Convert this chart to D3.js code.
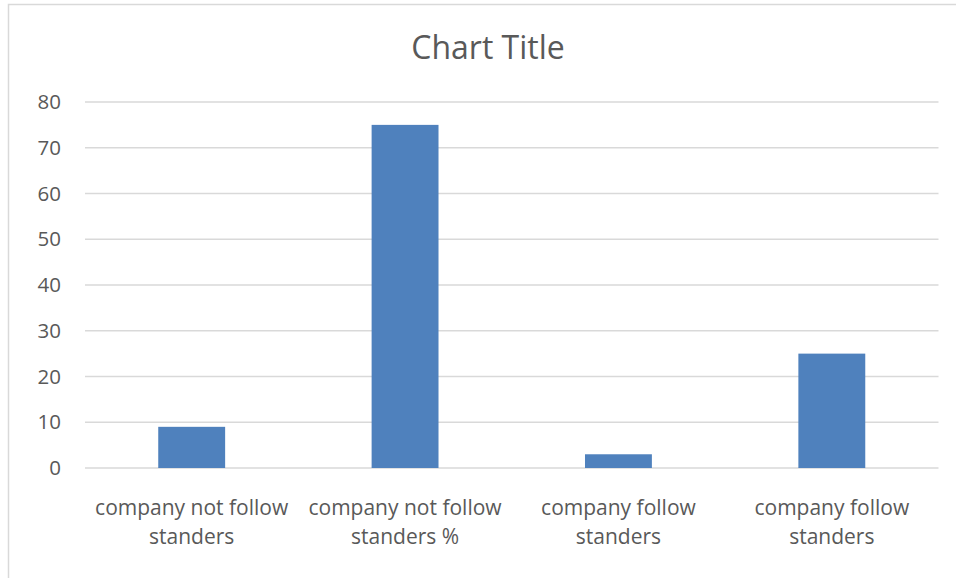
<!DOCTYPE html>
<html>
<head>
<meta charset="utf-8">
<script src="https://cdn.jsdelivr.net/npm/d3@7"></script>
<style>
  body { margin: 0; background: #fff; }
  svg { display: block; }
</style>
</head>
<body>
<div id="chart"></div>
<script>
// data
let categories = [
  ["company not follow", "standers"],
  ["company not follow", "standers %"],
  ["company follow", "standers"],
  ["company follow", "standers"]
];
let values = [9, 75, 3, 25];
let yTicks = [0, 10, 20, 30, 40, 50, 60, 70, 80];

let width = 956, height = 578;
let plotLeft = 85, plotRight = 938.5, plotTop = 102, plotBottom = 468;
let font = "'Open Sans', sans-serif";

let svg = d3.select("#chart")
  .append("svg")
    .attr("width", width)
    .attr("height", height)
;

// chart frame (cut off on the right and bottom like the screenshot)
svg.append("rect")
  .attr("x", 8.5)
  .attr("y", 4.5)
  .attr("width", 960)
  .attr("height", 600)
  .attr("fill", "#fff")
  .attr("stroke", "#d9d9d9")
  .attr("stroke-width", 1.5)
;

let x = d3.scaleBand()
  .domain(d3.range(values.length))
  .range([plotLeft, plotRight])
  .paddingInner(0.6865)
  .paddingOuter(0.34325)
;
let y = d3.scaleLinear()
  .domain([0, 80])
  .range([plotBottom, plotTop])
;

// gridlines
svg.append("g")
  .selectAll("line")
  .data(yTicks)
  .enter()
  .append("line")
    .attr("x1", plotLeft)
    .attr("x2", plotRight)
    .attr("y1", d => y(d))
    .attr("y2", d => y(d))
    .attr("stroke", "#d9d9d9")
    .attr("stroke-width", 1.3)
;

// y axis labels
let yAxis = svg.append("g")
  .attr("transform", "translate(" + (plotLeft - 11) + ",0)")
  .call(d3.axisLeft(y).tickValues(yTicks).tickSize(0).tickPadding(13));
yAxis.select(".domain").remove();
yAxis.selectAll("text")
  .attr("fill", "#595959")
  .attr("font-size", 20.5)
  .attr("font-family", font)
;

// bars
svg.append("g")
  .selectAll("rect")
  .data(values)
  .enter()
  .append("rect")
    .attr("x", (d, i) => x(i))
    .attr("y", d => y(d))
    .attr("width", x.bandwidth())
    .attr("height", d => y(0) - y(d))
    .attr("fill", "#4f81bd")
;

// category labels, two lines each
let labels = svg.append("g")
  .selectAll("text")
  .data(categories)
  .enter()
  .append("text")
    .attr("x", (d, i) => x(i) + x.bandwidth() / 2)
    .attr("y", 515)
    .attr("text-anchor", "middle")
    .attr("fill", "#595959")
    .attr("font-size", 21)
    .attr("font-family", font)
;
labels.selectAll("tspan")
  .data(d => d)
  .enter()
  .append("tspan")
    .attr("x", function(){ return d3.select(this.parentNode).attr("x"); })
    .attr("dy", (d, i) => i == 0 ? 0 : 29)
    .text(d => d)
;

// title
svg.append("text")
  .text("Chart Title")
    .attr("x", 488)
    .attr("y", 59)
    .attr("text-anchor", "middle")
    .attr("fill", "#595959")
    .attr("font-size", 32)
    .attr("font-family", font)
;
</script>
</body>
</html>
